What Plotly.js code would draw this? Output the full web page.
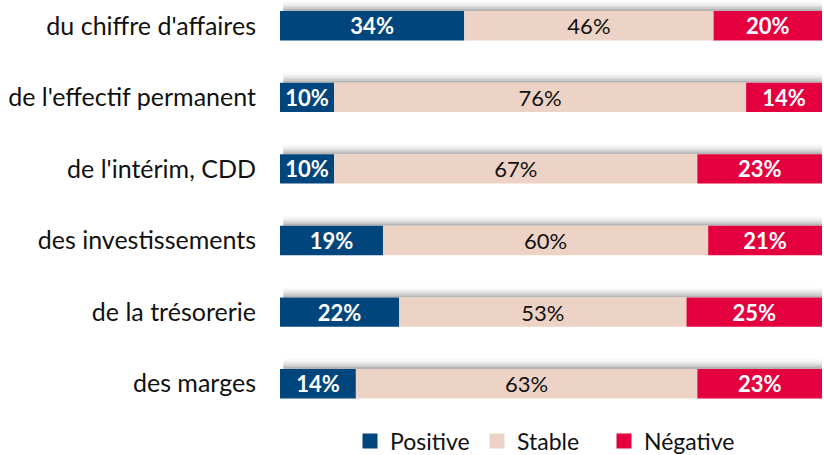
<!DOCTYPE html>
<html><head><meta charset="utf-8">
<script src="https://cdn.plot.ly/plotly-3.0.1.min.js"></script>
<style>html,body{margin:0;padding:0;background:#fff}#c{width:824px;height:455px}</style>
</head><body><div id="c"></div>
<script>
// categories from bottom to top
const categories = ["des marges","de la trésorerie","des investissements","de l'intérim, CDD","de l'effectif permanent","du chiffre d'affaires"];
const positive = [14,22,19,10,10,34];
const stable   = [63,53,60,67,76,46];
const negative = [23,25,21,23,14,20];
const seriesNames = ["Positive","Stable","Négative"];
const colors = ["#00457C","#EDD3C5","#E4003F"];
const textColors = ["#ffffff","#111111","#ffffff"];
const bold = [true,false,true];
const vals = [positive,stable,negative];

const font = "Lato, 'Open Sans', sans-serif";
const BW = 0.41;
const px = 1/72;
const totals = categories.map((c,j)=>vals.reduce((s,v)=>s+v[j],0));

// soft shadow bands above each bar
const shadowBands = [[0,2,0.45],[2,4,0.3],[4,6,0.18],[6,8,0.09],[8,10,0.035]];
const shadows = shadowBands.map(b=>({
  type:'bar', orientation:'h', y:categories, x:totals.map(t=>t-0.6), base:0.6,
  offset:BW/2 + b[0]*px, width:(b[1]-b[0])*px,
  marker:{color:'rgba(90,90,90,'+b[2]+')', line:{width:0}},
  showlegend:false, hoverinfo:'none'
}));

const traces = vals.map((v,i)=>({
  type:'bar', orientation:'h', name:seriesNames[i], y:categories, x:v,
  base:categories.map((c,j)=>vals.slice(0,i).reduce((s,w)=>s+w[j],0)),
  marker:{color:colors[i], line:{width:0}},
  text:v.map(d=> bold[i] ? '<b>'+d+'%</b>' : d+'%'),
  textposition:'inside', insidetextanchor:'middle', textangle:0,
  textfont:{family:font, size:22, color:textColors[i]},
  hoverinfo:'none', width:BW, showlegend:false
}));
// legend entries with larger square symbols
const legendItems = seriesNames.map((n,i)=>({
  type:'scatter', mode:'markers', name:n, x:[null], y:[null],
  marker:{symbol:'square', size:15, color:colors[i]}, hoverinfo:'none'
}));
// empty spacer entry so the last label is not clipped
legendItems.push({type:'scatter', mode:'markers', name:' ', x:[null], y:[null],
  marker:{size:1, color:'rgba(0,0,0,0)'}, hoverinfo:'none'});

Plotly.newPlot('c', shadows.concat(traces, legendItems), {
  barmode:'overlay', width:824, height:455,
  margin:{l:280,r:2,t:0,b:33},
  paper_bgcolor:'#fff', plot_bgcolor:'#fff',
  font:{family:font,size:24,color:'#111'},
  uniformtext:{mode:'show',minsize:22},
  xaxis:{range:[0,100],visible:false,fixedrange:true},
  yaxis:{type:'category',categoryarray:categories,range:[-0.5,5.36],showgrid:false,zeroline:false,showline:false,
    ticks:'outside',ticklen:18,tickcolor:'rgba(0,0,0,0)',tickfont:{family:font,size:25,color:'#111'}},
  showlegend:true,
  legend:{orientation:'h',xref:'container',yref:'container',x:350/824,xanchor:'left',y:1-441/455,yanchor:'middle',
    font:{family:font,size:23,color:'#111'},itemwidth:30,entrywidth:82,traceorder:'normal'}
},{displayModeBar:false,staticPlot:true});
</script></body></html>
